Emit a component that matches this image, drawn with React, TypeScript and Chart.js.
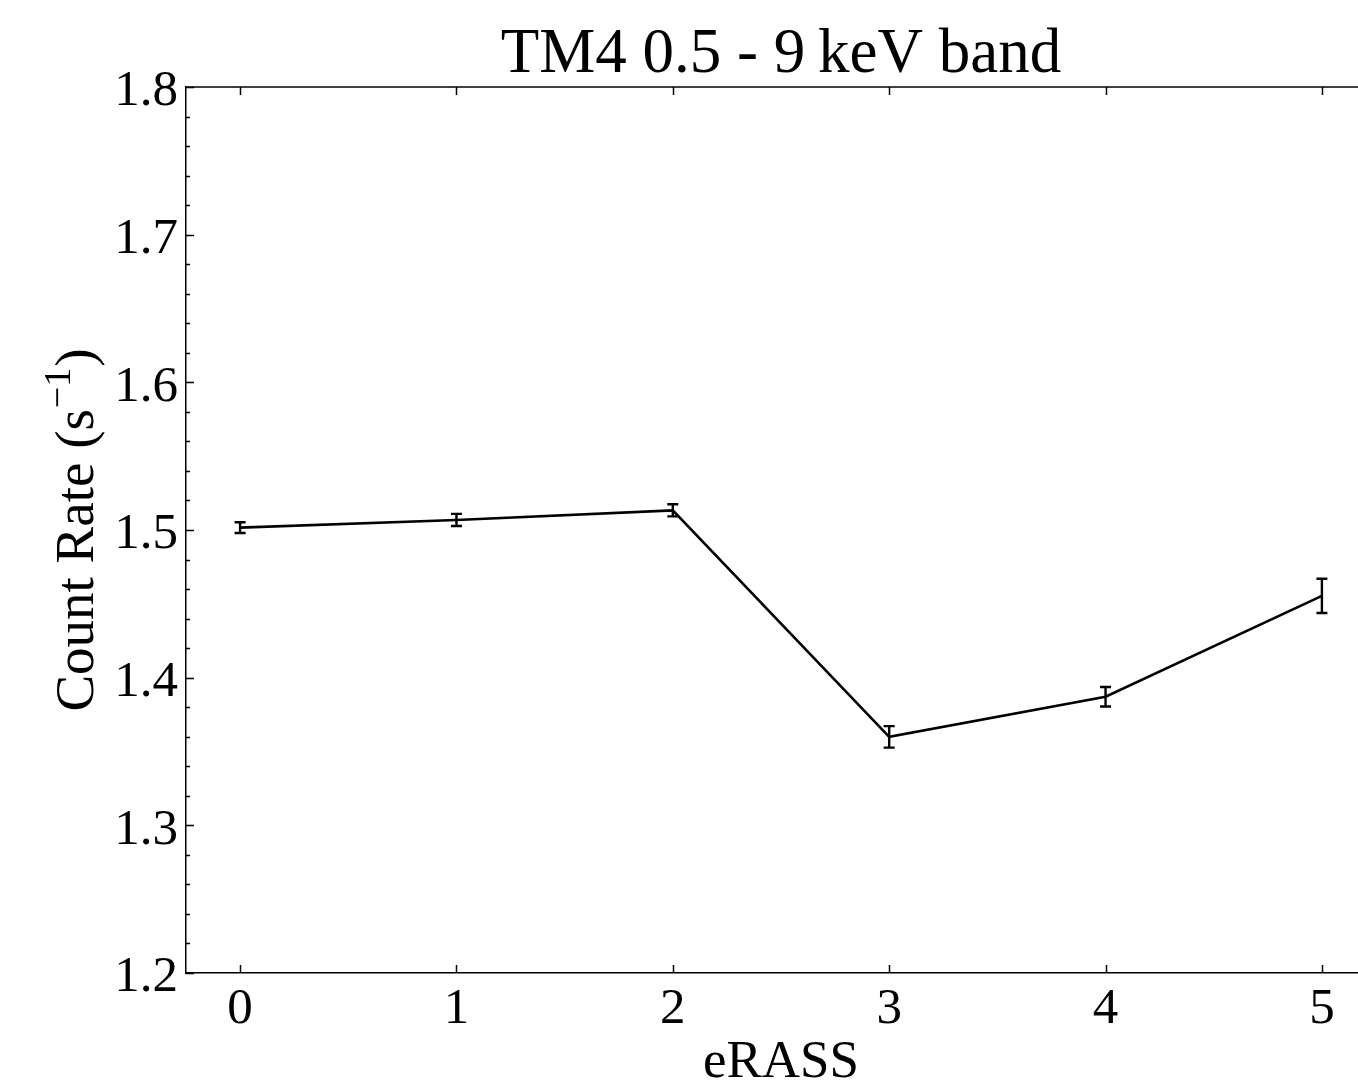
import React, { useEffect, useRef } from "react";
import { Chart, registerables } from "chart.js";

Chart.register(...registerables);

// ---- data ----
const eRASS = [0, 1, 2, 3, 4, 5];
const countRate = [1.5016, 1.5068, 1.5133, 1.3599, 1.3871, 1.4554];
const countRateErr = [0.0036, 0.0041, 0.0041, 0.0073, 0.0066, 0.0116];
const xTicks = [0, 1, 2, 3, 4, 5];
const yMajorTicks = [1.2, 1.3, 1.4, 1.5, 1.6, 1.7, 1.8];
const yMinorTicks = [
  1.22, 1.24, 1.26, 1.28, 1.32, 1.34, 1.36, 1.38, 1.42, 1.44, 1.46, 1.48,
  1.52, 1.54, 1.56, 1.58, 1.62, 1.64, 1.66, 1.68, 1.72, 1.74, 1.76, 1.78,
];
const titleText = "TM4 0.5 - 9\u2009keV band";
const xLabel = "eRASS";
const yLabelMain = "Count Rate (s";
const yLabelSup = "\u22121";
const yLabelEnd = ")";

const FONT = "'Liberation Serif', 'Times New Roman', serif";

const decorPlugin = {
  id: "decor",
  afterDatasetsDraw(chart: any) {
    const ctx = chart.ctx as CanvasRenderingContext2D;
    const xs = chart.scales.x;
    const ys = chart.scales.y;
    ctx.save();
    // error bars
    ctx.strokeStyle = "#000";
    ctx.lineWidth = 2.4;
    for (let i = 0; i < eRASS.length; i++) {
      const px = xs.getPixelForValue(eRASS[i]);
      const y1 = ys.getPixelForValue(countRate[i] + countRateErr[i]);
      const y2 = ys.getPixelForValue(countRate[i] - countRateErr[i]);
      ctx.beginPath();
      ctx.moveTo(px, y1);
      ctx.lineTo(px, y2);
      ctx.moveTo(px - 5.5, y1);
      ctx.lineTo(px + 5.5, y1);
      ctx.moveTo(px - 5.5, y2);
      ctx.lineTo(px + 5.5, y2);
      ctx.stroke();
    }
    ctx.restore();
  },
  afterDraw(chart: any) {
    const ctx = chart.ctx as CanvasRenderingContext2D;
    const { left, right, top, bottom } = chart.chartArea;
    const xs = chart.scales.x;
    const ys = chart.scales.y;
    ctx.save();
    ctx.strokeStyle = "#000";
    ctx.lineWidth = 1.5;
    // top spine
    ctx.beginPath();
    ctx.moveTo(left, top);
    ctx.lineTo(right, top);
    ctx.stroke();
    // x ticks (inward, bottom and top)
    ctx.beginPath();
    for (const t of xTicks) {
      const px = Math.round(xs.getPixelForValue(t)) + 0.5;
      ctx.moveTo(px, bottom);
      ctx.lineTo(px, bottom - 8);
      ctx.moveTo(px, top);
      ctx.lineTo(px, top + 8);
    }
    // y ticks
    for (const t of yMajorTicks) {
      const py = Math.round(ys.getPixelForValue(t)) + 0.5;
      ctx.moveTo(left, py);
      ctx.lineTo(left + 8, py);
    }
    for (const t of yMinorTicks) {
      const py = Math.round(ys.getPixelForValue(t)) + 0.5;
      ctx.moveTo(left, py);
      ctx.lineTo(left + 4, py);
    }
    ctx.stroke();

    // title
    ctx.fillStyle = "#000";
    ctx.textAlign = "center";
    ctx.textBaseline = "alphabetic";
    ctx.font = `63px ${FONT}`;
    ctx.fillText(titleText, (left + right) / 2, 72);

    // x label
    ctx.font = `53px ${FONT}`;
    ctx.fillText(xLabel, (left + right) / 2, 1077);

    // y label (rotated, with superscript)
    ctx.translate(93, (top + bottom) / 2);
    ctx.rotate(-Math.PI / 2);
    ctx.textAlign = "left";
    const mainFont = `55px ${FONT}`;
    const supFont = `38px ${FONT}`;
    ctx.font = mainFont;
    const w1 = ctx.measureText(yLabelMain).width;
    const w3 = ctx.measureText(yLabelEnd).width;
    ctx.font = supFont;
    const w2 = ctx.measureText(yLabelSup).width;
    const total = w1 + w2 + w3 + 2;
    let x0 = -total / 2;
    ctx.font = mainFont;
    ctx.fillText(yLabelMain, x0, 0);
    x0 += w1 + 1;
    ctx.font = supFont;
    ctx.fillText(yLabelSup, x0, -23);
    x0 += w2 + 1;
    ctx.font = mainFont;
    ctx.fillText(yLabelEnd, x0, 0);
    ctx.restore();
  },
};

export default function App() {
  const ref = useRef<HTMLCanvasElement | null>(null);
  useEffect(() => {
    if (!ref.current) return;
    const chart = new Chart(ref.current, {
      type: "line",
      data: {
        datasets: [
          {
            data: eRASS.map((x, i) => ({ x, y: countRate[i] })),
            borderColor: "#000",
            borderWidth: 2.6,
            pointRadius: 0,
            tension: 0,
            fill: false,
          },
        ],
      },
      options: {
        animation: false,
        responsive: false,
        devicePixelRatio: 1,
        layout: { padding: { top: 87, left: 0, right: 0, bottom: 0 } },
        plugins: {
          legend: { display: false },
          tooltip: { enabled: false },
          title: { display: false },
        },
        scales: {
          x: {
            type: "linear",
            min: -0.25,
            max: 5.25,
            grid: { display: false, drawTicks: false },
            border: { display: true, color: "#000", width: 1.5 },
            afterBuildTicks: (s: any) => {
              s.ticks = xTicks.map((v) => ({ value: v }));
            },
            afterFit: (s: any) => {
              s.height = 112;
            },
            ticks: {
              color: "#000",
              padding: 6,
              maxRotation: 0,
              autoSkip: false,
              font: { family: FONT, size: 51 },
              callback: (v: any) => String(v),
            },
          },
          y: {
            type: "linear",
            min: 1.2,
            max: 1.8,
            grid: { display: false, drawTicks: false },
            border: { display: true, color: "#000", width: 1.5 },
            afterBuildTicks: (s: any) => {
              s.ticks = yMajorTicks.map((v) => ({ value: v }));
            },
            afterFit: (s: any) => {
              s.width = 186;
            },
            ticks: {
              color: "#000",
              padding: 8,
              labelOffset: 5,
              autoSkip: false,
              font: { family: FONT, size: 51 },
              callback: (v: any) => Number(v).toFixed(1),
            },
          },
        },
      },
      plugins: [decorPlugin],
    });
    return () => chart.destroy();
  }, []);
  return (
    <div
      style={{
        position: "fixed",
        left: 0,
        top: 0,
        width: 1358,
        height: 1085,
        overflow: "hidden",
        background: "#fff",
      }}
    >
      <canvas ref={ref} width={1376} height={1085} style={{ display: "block" }} />
    </div>
  );
}
